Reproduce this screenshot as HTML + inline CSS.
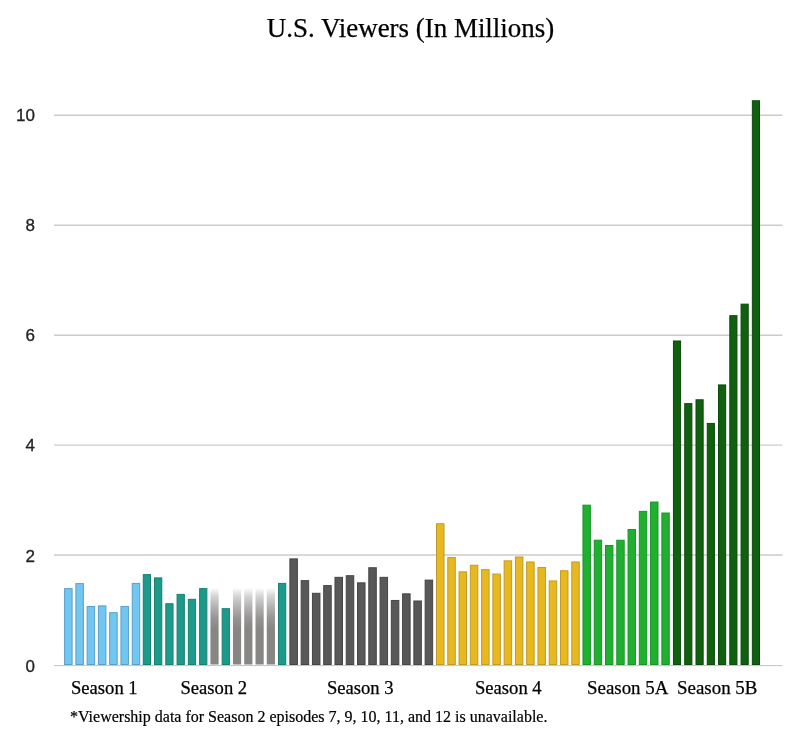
<!DOCTYPE html>
<html><head><meta charset="utf-8"><title>U.S. Viewers (In Millions)</title>
<style>
html,body{margin:0;padding:0;background:#fff;}
body{width:800px;height:747px;overflow:hidden;}
svg{display:block;will-change:transform;opacity:0.999;}
.t{font-family:"Liberation Serif",serif;font-size:26.95px;fill:#000;stroke:#000;stroke-width:0.25px;}
.xl{font-family:"Liberation Serif",serif;font-size:18.6px;fill:#000;stroke:#000;stroke-width:0.25px;}
.fn{font-family:"Liberation Serif",serif;font-size:16px;fill:#000;stroke:#000;stroke-width:0.2px;}
.yl{font-family:"Liberation Sans",sans-serif;font-size:17px;fill:#222;stroke:#222;stroke-width:0.3px;}
</style></head><body>
<svg width="800" height="747" viewBox="0 0 800 747">
<defs>
<linearGradient id="gg" x1="0" y1="0" x2="0" y2="1">
<stop offset="0" stop-color="#888585" stop-opacity="0"/>
<stop offset="0.1" stop-color="#888585" stop-opacity="0.33"/>
<stop offset="0.25" stop-color="#888585" stop-opacity="0.64"/>
<stop offset="0.4" stop-color="#888585" stop-opacity="0.88"/>
<stop offset="0.54" stop-color="#888585" stop-opacity="1"/>
<stop offset="1" stop-color="#888585" stop-opacity="1"/>
</linearGradient>
</defs>
<rect width="800" height="747" fill="#fff"/>
<text x="410.5" y="36.6" text-anchor="middle" class="t">U.S. Viewers (In Millions)</text>
<line x1="54" x2="782.5" y1="665.60" y2="665.60" stroke="#bbbbbb" stroke-width="0.9"/>
<text x="35.0" y="671.70" text-anchor="end" class="yl">0</text>
<line x1="54" x2="782.5" y1="555.06" y2="555.06" stroke="#cbcbcb" stroke-width="1.4"/>
<text x="35.0" y="561.50" text-anchor="end" class="yl">2</text>
<line x1="54" x2="782.5" y1="445.12" y2="445.12" stroke="#cbcbcb" stroke-width="1.4"/>
<text x="35.0" y="451.30" text-anchor="end" class="yl">4</text>
<line x1="54" x2="782.5" y1="335.18" y2="335.18" stroke="#cbcbcb" stroke-width="1.4"/>
<text x="35.0" y="341.10" text-anchor="end" class="yl">6</text>
<line x1="54" x2="782.5" y1="225.24" y2="225.24" stroke="#cbcbcb" stroke-width="1.4"/>
<text x="35.0" y="230.90" text-anchor="end" class="yl">8</text>
<line x1="54" x2="782.5" y1="115.30" y2="115.30" stroke="#cbcbcb" stroke-width="1.4"/>
<text x="35.0" y="120.70" text-anchor="end" class="yl">10</text>
<rect x="64.60" y="588.62" width="7.50" height="75.88" fill="#72c6f2" stroke="#5a9fc8" stroke-width="1"/>
<rect x="75.87" y="583.61" width="7.50" height="80.89" fill="#72c6f2" stroke="#5a9fc8" stroke-width="1"/>
<rect x="87.14" y="606.48" width="7.50" height="58.02" fill="#72c6f2" stroke="#5a9fc8" stroke-width="1"/>
<rect x="98.41" y="605.93" width="7.50" height="58.57" fill="#72c6f2" stroke="#5a9fc8" stroke-width="1"/>
<rect x="109.68" y="612.69" width="7.50" height="51.81" fill="#72c6f2" stroke="#5a9fc8" stroke-width="1"/>
<rect x="120.95" y="606.48" width="7.50" height="58.02" fill="#72c6f2" stroke="#5a9fc8" stroke-width="1"/>
<rect x="132.22" y="583.39" width="7.50" height="81.11" fill="#72c6f2" stroke="#5a9fc8" stroke-width="1"/>
<rect x="143.27" y="574.60" width="7.25" height="89.90" fill="#1c9b8c" stroke="#17806f" stroke-width="1"/>
<rect x="154.53" y="577.90" width="7.25" height="86.60" fill="#1c9b8c" stroke="#17806f" stroke-width="1"/>
<rect x="165.80" y="603.73" width="7.25" height="60.77" fill="#1c9b8c" stroke="#17806f" stroke-width="1"/>
<rect x="177.07" y="594.39" width="7.25" height="70.11" fill="#1c9b8c" stroke="#17806f" stroke-width="1"/>
<rect x="188.34" y="599.34" width="7.25" height="65.16" fill="#1c9b8c" stroke="#17806f" stroke-width="1"/>
<rect x="199.62" y="588.62" width="7.25" height="75.88" fill="#1c9b8c" stroke="#17806f" stroke-width="1"/>
<rect x="210.41" y="587.84" width="8.2" height="76.66" fill="url(#gg)"/>
<rect x="222.16" y="608.68" width="7.25" height="55.82" fill="#1c9b8c" stroke="#17806f" stroke-width="1"/>
<rect x="232.95" y="587.84" width="8.2" height="76.66" fill="url(#gg)"/>
<rect x="244.22" y="587.84" width="8.2" height="76.66" fill="url(#gg)"/>
<rect x="255.49" y="587.84" width="8.2" height="76.66" fill="url(#gg)"/>
<rect x="266.76" y="587.84" width="8.2" height="76.66" fill="url(#gg)"/>
<rect x="278.50" y="583.39" width="7.25" height="81.11" fill="#1c9b8c" stroke="#17806f" stroke-width="1"/>
<rect x="289.90" y="558.88" width="7.50" height="105.62" fill="#585858" stroke="#454545" stroke-width="1"/>
<rect x="301.17" y="580.65" width="7.50" height="83.85" fill="#585858" stroke="#454545" stroke-width="1"/>
<rect x="312.44" y="593.29" width="7.50" height="71.21" fill="#585858" stroke="#454545" stroke-width="1"/>
<rect x="323.71" y="585.59" width="7.50" height="78.91" fill="#585858" stroke="#454545" stroke-width="1"/>
<rect x="334.98" y="577.35" width="7.50" height="87.15" fill="#585858" stroke="#454545" stroke-width="1"/>
<rect x="346.25" y="575.70" width="7.50" height="88.80" fill="#585858" stroke="#454545" stroke-width="1"/>
<rect x="357.52" y="582.84" width="7.50" height="81.66" fill="#585858" stroke="#454545" stroke-width="1"/>
<rect x="368.79" y="567.73" width="7.50" height="96.77" fill="#585858" stroke="#454545" stroke-width="1"/>
<rect x="380.06" y="577.35" width="7.50" height="87.15" fill="#585858" stroke="#454545" stroke-width="1"/>
<rect x="391.33" y="600.44" width="7.50" height="64.06" fill="#585858" stroke="#454545" stroke-width="1"/>
<rect x="402.60" y="593.84" width="7.50" height="70.66" fill="#585858" stroke="#454545" stroke-width="1"/>
<rect x="413.87" y="600.99" width="7.50" height="63.51" fill="#585858" stroke="#454545" stroke-width="1"/>
<rect x="425.14" y="580.10" width="7.50" height="84.40" fill="#585858" stroke="#454545" stroke-width="1"/>
<rect x="436.51" y="523.75" width="7.50" height="140.75" fill="#e8b820" stroke="#c29a28" stroke-width="1"/>
<rect x="447.78" y="557.56" width="7.50" height="106.94" fill="#e8b820" stroke="#c29a28" stroke-width="1"/>
<rect x="459.05" y="571.85" width="7.50" height="92.65" fill="#e8b820" stroke="#c29a28" stroke-width="1"/>
<rect x="470.32" y="565.25" width="7.50" height="99.25" fill="#e8b820" stroke="#c29a28" stroke-width="1"/>
<rect x="481.59" y="569.65" width="7.50" height="94.85" fill="#e8b820" stroke="#c29a28" stroke-width="1"/>
<rect x="492.86" y="574.05" width="7.50" height="90.45" fill="#e8b820" stroke="#c29a28" stroke-width="1"/>
<rect x="504.13" y="560.86" width="7.50" height="103.64" fill="#e8b820" stroke="#c29a28" stroke-width="1"/>
<rect x="515.40" y="557.01" width="7.50" height="107.49" fill="#e8b820" stroke="#c29a28" stroke-width="1"/>
<rect x="526.67" y="561.96" width="7.50" height="102.54" fill="#e8b820" stroke="#c29a28" stroke-width="1"/>
<rect x="537.94" y="567.45" width="7.50" height="97.05" fill="#e8b820" stroke="#c29a28" stroke-width="1"/>
<rect x="549.21" y="580.92" width="7.50" height="83.58" fill="#e8b820" stroke="#c29a28" stroke-width="1"/>
<rect x="560.48" y="570.75" width="7.50" height="93.75" fill="#e8b820" stroke="#c29a28" stroke-width="1"/>
<rect x="571.75" y="561.96" width="7.50" height="102.54" fill="#e8b820" stroke="#c29a28" stroke-width="1"/>
<rect x="582.97" y="505.17" width="7.40" height="159.33" fill="#20b030" stroke="#1a9428" stroke-width="1"/>
<rect x="594.24" y="540.24" width="7.40" height="124.26" fill="#20b030" stroke="#1a9428" stroke-width="1"/>
<rect x="605.51" y="545.47" width="7.40" height="119.03" fill="#20b030" stroke="#1a9428" stroke-width="1"/>
<rect x="616.78" y="540.24" width="7.40" height="124.26" fill="#20b030" stroke="#1a9428" stroke-width="1"/>
<rect x="628.05" y="529.52" width="7.40" height="134.98" fill="#20b030" stroke="#1a9428" stroke-width="1"/>
<rect x="639.32" y="511.38" width="7.40" height="153.12" fill="#20b030" stroke="#1a9428" stroke-width="1"/>
<rect x="650.59" y="502.04" width="7.40" height="162.46" fill="#20b030" stroke="#1a9428" stroke-width="1"/>
<rect x="661.86" y="513.03" width="7.40" height="151.47" fill="#20b030" stroke="#1a9428" stroke-width="1"/>
<rect x="673.45" y="340.98" width="7.15" height="323.52" fill="#106010" stroke="#0a4a0a" stroke-width="1"/>
<rect x="684.73" y="403.64" width="7.15" height="260.86" fill="#106010" stroke="#0a4a0a" stroke-width="1"/>
<rect x="696.00" y="399.79" width="7.15" height="264.71" fill="#106010" stroke="#0a4a0a" stroke-width="1"/>
<rect x="707.26" y="423.43" width="7.15" height="241.07" fill="#106010" stroke="#0a4a0a" stroke-width="1"/>
<rect x="718.53" y="384.95" width="7.15" height="279.55" fill="#106010" stroke="#0a4a0a" stroke-width="1"/>
<rect x="729.80" y="315.69" width="7.15" height="348.81" fill="#106010" stroke="#0a4a0a" stroke-width="1"/>
<rect x="741.07" y="304.15" width="7.15" height="360.35" fill="#106010" stroke="#0a4a0a" stroke-width="1"/>
<rect x="752.35" y="100.76" width="7.15" height="563.74" fill="#106010" stroke="#0a4a0a" stroke-width="1"/>
<text x="71" y="693.5" class="xl" style="font-size:18.6px">Season 1</text>
<text x="180.5" y="693.5" class="xl" style="font-size:18.6px">Season 2</text>
<text x="326.9" y="693.5" class="xl" style="font-size:18.6px">Season 3</text>
<text x="475" y="693.5" class="xl" style="font-size:18.6px">Season 4</text>
<text x="587.0" y="693.5" class="xl" style="font-size:18.9px">Season 5A</text>
<text x="677.1" y="693.5" class="xl" style="font-size:18.9px">Season 5B</text>
<text x="70" y="721.5" class="fn">*Viewership data for Season 2 episodes 7, 9, 10, 11, and 12 is unavailable.</text>
</svg>
</body></html>
